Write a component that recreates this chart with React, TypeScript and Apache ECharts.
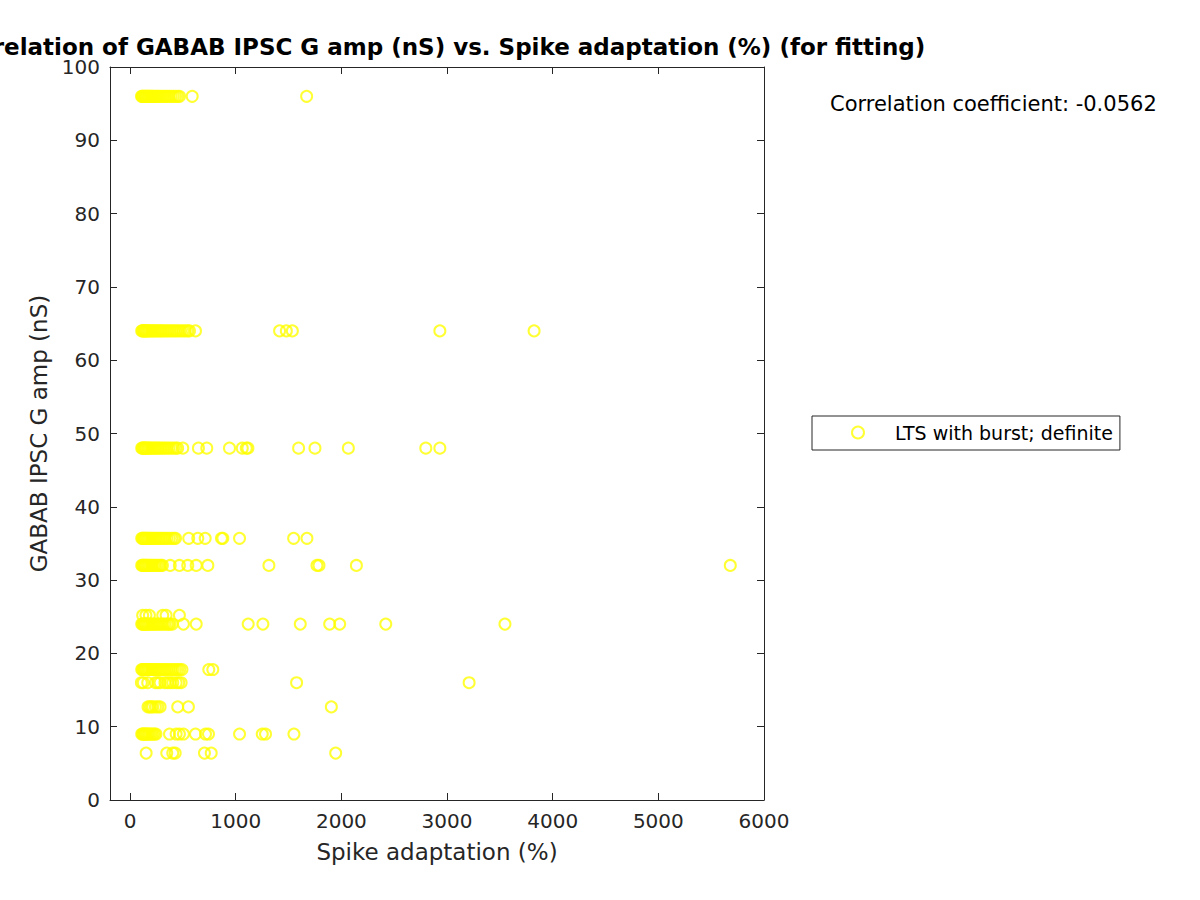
import React, { useEffect, useRef } from "react";
import * as echarts from "echarts";

const seriesName = "LTS with burst; definite";
const xTicks = [0, 1000, 2000, 3000, 4000, 5000, 6000];
const yTicks = [0, 10, 20, 30, 40, 50, 60, 70, 80, 90, 100];

// y level (nS) for each row of points
const yLevels = [96, 64, 48, 35.7, 32, 25.2, 24, 17.8, 16, 12.7, 9, 6.4];

// x values (Spike adaptation, %) for each row
const row96 = [108, 115, 122, 130, 138, 145, 152, 160, 168, 175, 183, 192, 200, 210, 220, 232, 245, 258, 270, 285, 300, 318, 335, 352, 370, 390, 410, 430, 450, 468, 588, 1671];
const row64 = [110, 118, 126, 134, 142, 150, 160, 170, 180, 192, 205, 218, 230, 245, 260, 275, 290, 305, 322, 340, 358, 376, 395, 415, 435, 455, 478, 500, 522, 545, 562, 619, 1415, 1479, 1536, 2932, 3824];
const row48 = [110, 118, 126, 134, 142, 150, 160, 170, 180, 192, 205, 218, 232, 246, 260, 275, 292, 310, 328, 348, 368, 390, 412, 432, 450, 499, 647, 726, 941, 1062, 1100, 1115, 1595, 1750, 2066, 2799, 2932];
const row35 = [110, 118, 126, 134, 142, 150, 160, 170, 180, 192, 205, 218, 232, 246, 262, 278, 295, 312, 330, 350, 372, 395, 415, 430, 555, 641, 711, 865, 878, 1036, 1548, 1674];
const row32 = [110, 118, 126, 134, 142, 150, 160, 170, 180, 192, 205, 218, 232, 246, 262, 278, 292, 306, 380, 467, 546, 626, 736, 1314, 1769, 1788, 2142, 5681];
const row25 = [119, 150, 183, 309, 341, 467];
const row24 = [110, 118, 126, 134, 142, 150, 160, 170, 180, 192, 205, 218, 232, 246, 262, 278, 295, 312, 330, 350, 365, 379, 400, 505, 626, 1118, 1257, 1611, 1889, 1984, 2420, 3548];
const row17 = [110, 118, 126, 134, 142, 150, 160, 170, 180, 192, 205, 218, 232, 246, 262, 278, 295, 312, 330, 350, 370, 390, 410, 430, 450, 470, 491, 745, 783];
const row16 = [107, 125, 167, 240, 262, 284, 330, 356, 380, 404, 436, 460, 483, 1576, 3209];
const row12 = [170, 185, 200, 215, 240, 262, 284, 451, 552, 1905];
const row9 = [110, 118, 126, 134, 142, 150, 160, 170, 180, 192, 205, 218, 232, 245, 373, 436, 467, 505, 619, 714, 742, 1036, 1251, 1282, 1551];
const row6 = [152, 347, 404, 427, 704, 768, 1946];

const rows = [row96, row64, row48, row35, row32, row25, row24, row17, row16, row12, row9, row6];

const FONT = "DejaVu Sans";
const AX = "#262626";

export default function App() {
  const ref = useRef<HTMLDivElement>(null);
  useEffect(() => {
    if (!ref.current) return;
    const chart = echarts.init(ref.current, undefined, { renderer: "svg" });
    const data: number[][] = [];
    rows.forEach((r, i) => r.forEach((x) => data.push([x, yLevels[i]])));
    const fmt = (v: number) => String(v);
    chart.setOption({
      animation: false,
      backgroundColor: "#ffffff",
      textStyle: { fontFamily: FONT },
      grid: { left: 110, right: 436, top: 67, bottom: 100, containLabel: false },
      graphic: [
        {
          type: "text",
          x: 437,
          y: 47,
          style: {
            text: "Correlation of GABAB IPSC G amp (nS) vs. Spike adaptation (%) (for fitting)",
            fontFamily: FONT,
            fontSize: 23,
            fontWeight: "bold",
            fill: "#000000",
            align: "center",
            verticalAlign: "middle",
          },
        },
        {
          type: "text",
          x: 830,
          y: 104,
          style: {
            text: "Correlation coefficient: -0.0562",
            fontFamily: FONT,
            fontSize: 21,
            fill: "#000000",
            align: "left",
            verticalAlign: "middle",
          },
        },
      ],
      legend: {
        data: [seriesName],
        left: 812,
        top: 416,
        orient: "vertical",
        padding: [7, 7, 8, 39],
        itemWidth: 12,
        itemHeight: 12,
        borderColor: AX,
        borderWidth: 1,
        borderRadius: 0,
        icon: "circle",
        itemStyle: { color: "rgba(0,0,0,0)", borderColor: "#ffff00", borderWidth: 2 },
        textStyle: { fontFamily: FONT, fontSize: 19, color: "#000000", padding: [0, 0, 0, 26] },
      },
      xAxis: [
        {
          type: "value",
          min: -190,
          max: 6000,
          name: "Spike adaptation (%)",
          nameLocation: "middle",
          nameGap: 40,
          nameTextStyle: { fontFamily: FONT, fontSize: 23, color: AX },
          axisLine: { show: true, onZero: false, lineStyle: { color: AX, width: 1 } },
          axisTick: { show: true, inside: true, length: 7, customValues: xTicks, lineStyle: { color: AX } },
          axisLabel: { customValues: xTicks, formatter: fmt, fontFamily: FONT, fontSize: 20, color: AX, margin: 11 },
          splitLine: { show: false },
        },
        {
          type: "value",
          position: "top",
          min: -190,
          max: 6000,
          axisLine: { show: true, onZero: false, lineStyle: { color: AX, width: 1 } },
          axisTick: { show: true, inside: true, length: 7, customValues: xTicks, lineStyle: { color: AX } },
          axisLabel: { show: false },
          splitLine: { show: false },
        },
      ],
      yAxis: [
        {
          type: "value",
          min: 0,
          max: 100,
          interval: 10,
          name: "GABAB IPSC G amp (nS)",
          nameLocation: "middle",
          nameGap: 58,
          nameTextStyle: { fontFamily: FONT, fontSize: 23, color: AX },
          axisLine: { show: true, onZero: false, lineStyle: { color: AX, width: 1 } },
          axisTick: { show: true, inside: true, length: 7, lineStyle: { color: AX } },
          axisLabel: { customValues: yTicks, formatter: fmt, fontFamily: FONT, fontSize: 20, color: AX, margin: 10 },
          splitLine: { show: false },
        },
        {
          type: "value",
          position: "right",
          min: 0,
          max: 100,
          interval: 10,
          axisLine: { show: true, onZero: false, lineStyle: { color: AX, width: 1 } },
          axisTick: { show: true, inside: true, length: 7, lineStyle: { color: AX } },
          axisLabel: { show: false },
          splitLine: { show: false },
        },
      ],
      series: [
        {
          name: seriesName,
          type: "scatter",
          xAxisIndex: 0,
          yAxisIndex: 0,
          data,
          symbol: "circle",
          symbolSize: 11,
          itemStyle: { color: "rgba(0,0,0,0)", borderColor: "#ffff00", borderWidth: 2 },
          emphasis: { disabled: true },
        },
      ],
    });
    return () => chart.dispose();
  }, []);
  return <div ref={ref} style={{ width: 1200, height: 900, position: "absolute", left: 0, top: 0 }} />;
}
